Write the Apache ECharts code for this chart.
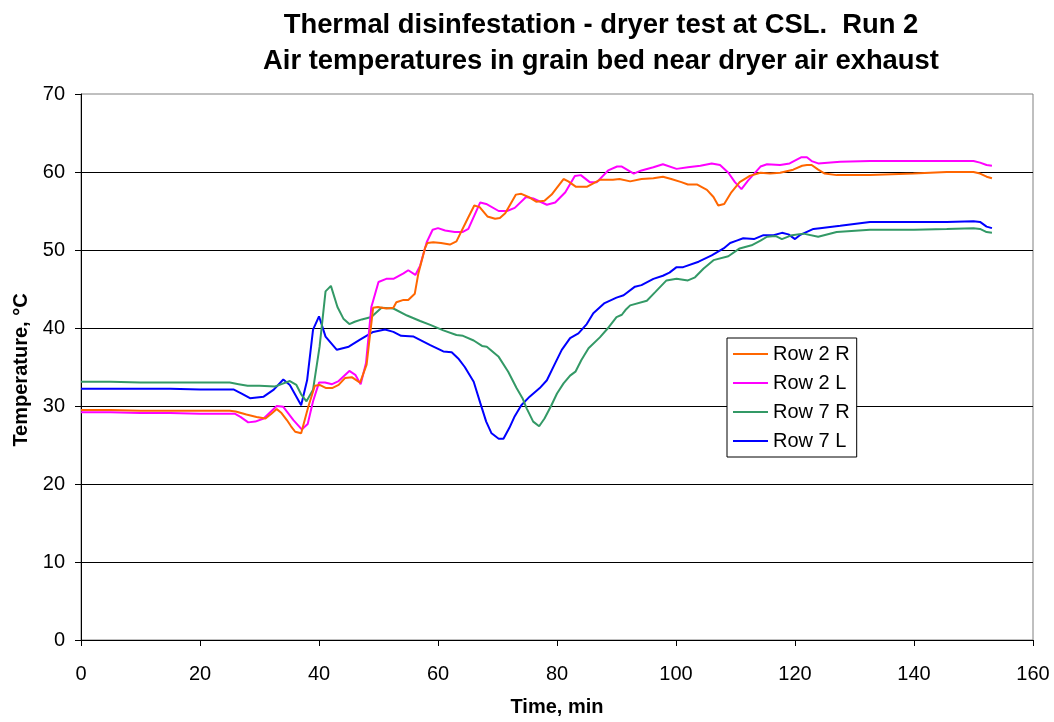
<!DOCTYPE html>
<html>
<head>
<meta charset="utf-8">
<script src="https://cdn.jsdelivr.net/npm/echarts@6/dist/echarts.min.js"></script>
<style>
html,body{margin:0;padding:0;background:#fff;}
#chart{width:1054px;height:722px;}
</style>
</head>
<body>
<div id="chart"></div>
<script>
// ---- data (time in min, temperature in °C) ----
const seriesNames = ["Row 2 R", "Row 2 L", "Row 7 R", "Row 7 L"];
const xTicks = [0, 20, 40, 60, 80, 100, 120, 140, 160];
const yTicks = [0, 10, 20, 30, 40, 50, 60, 70];

const row2RTime = [0,5,10,15,20,25,26,27.8,29.5,31,32,32.9,33.7,34.6,35.3,36,37,38.2,39.3,40.1,41.2,42.2,43.3,44.4,45.5,46.9,48,49.1,49.9,51.3,52.5,53,54.2,55,56.1,56.7,57.8,58.2,59.2,60.5,62,63.1,65.1,66.1,67,68.3,69.6,70.4,71.3,73.1,74,75.2,76.5,77.9,79.1,80,81.1,81.9,83.2,85,87.2,89.4,90.5,92.3,94.2,96.2,97.8,99.2,100.9,102,103.5,105.2,106.3,107.1,108.1,109.3,110.7,112.4,114.2,115.8,117.5,119.7,121.2,122,122.8,123.9,125,127,132.6,139.9,145.5,150,151.1,152.2,153.1];
const row2RTemp = [29.5,29.5,29.4,29.4,29.4,29.4,29.3,28.9,28.6,28.4,29.0,29.6,29.1,28.2,27.4,26.7,26.5,29.9,32.6,32.7,32.3,32.3,32.7,33.6,33.7,33.0,35.3,42.6,42.7,42.5,42.6,43.3,43.6,43.6,44.4,47.0,50.2,50.9,51.0,50.9,50.7,51.1,54.2,55.7,55.5,54.3,54.0,54.1,54.7,57.1,57.2,56.8,56.2,56.3,57.1,58.0,59.1,58.8,58.1,58.1,59.0,59.0,59.1,58.8,59.1,59.2,59.4,59.1,58.7,58.4,58.4,57.7,56.8,55.7,55.9,57.4,58.7,59.5,59.9,59.8,59.9,60.3,60.8,60.9,60.9,60.3,59.8,59.6,59.6,59.8,60.0,60.0,59.8,59.4,59.2];

const row2LTime = [0,5,10,15,20,25.9,26.8,28.1,29.3,30.7,31.8,32.9,34,35.7,37.1,38.1,39,40,41,42.2,43.3,45.1,46.1,47,47.9,48.8,50,51.3,52.5,54.2,55,56.2,57,58.1,59.1,60,61.2,62.8,64.1,65.1,66.1,67.1,68.1,70.2,71.6,72.9,74.8,76,78.3,79.7,81.4,83,84,85.5,86.7,88.6,90.1,90.9,92.9,94.2,96.2,97.8,100.1,102,104.1,106,107.4,108.8,109.9,111,112.1,114.2,115.3,117.5,119.1,121.1,122,122.8,123.9,127.6,132.6,139.9,150,151.1,152.2,153.1];
const row2LTemp = [29.2,29.2,29.1,29.1,29.0,29.0,28.6,27.9,28.0,28.4,29.2,30.0,29.9,28.2,27.0,27.7,30.6,33.0,33.0,32.8,33.2,34.5,34.0,32.8,35.5,42.7,45.9,46.3,46.3,47.0,47.4,46.8,48.0,51.0,52.6,52.8,52.5,52.3,52.3,52.7,54.4,56.1,55.9,55.0,55.0,55.4,56.8,56.6,55.8,56.1,57.4,59.5,59.6,58.7,58.7,60.2,60.7,60.7,59.8,60.2,60.6,61.0,60.4,60.6,60.8,61.1,60.9,59.9,58.7,57.8,58.9,60.7,61.0,60.9,61.1,61.9,61.9,61.4,61.1,61.3,61.4,61.4,61.4,61.2,60.9,60.8];

const row7RTime = [0,5,10,15,20,25,26.5,28,30,32.6,33.7,35.1,36.2,37,37.9,39,40.1,41.1,42,43.1,44.1,45.1,46,47.2,48.8,50.5,52.5,54.8,57,58.7,60.9,63.1,64.2,66,67.4,68.2,70.2,71.8,73.2,74.2,74.9,76,77,77.9,79,80,81.1,82.2,83.1,84.1,85.3,87.2,88.7,90,90.9,91.5,92.3,95.1,96.5,98.4,100.1,102,103.2,104.6,106.3,108.8,110.7,112.7,114.2,115.3,116.7,117.8,119.5,121.4,123.9,127,132.6,140,145.5,150,151.1,152.2,153.1];
const row7RTemp = [33.1,33.1,33.0,33.0,33.0,33.0,32.8,32.6,32.6,32.5,32.8,33.2,32.7,31.5,30.6,32.1,37.6,44.7,45.4,42.7,41.2,40.5,40.8,41.1,41.4,42.6,42.5,41.6,40.9,40.4,39.7,39.1,39.0,38.4,37.7,37.6,36.3,34.4,32.3,31.0,29.7,28.0,27.4,28.4,30.0,31.6,32.9,33.9,34.4,35.9,37.4,38.8,40.1,41.4,41.7,42.3,42.9,43.5,44.6,46.1,46.3,46.1,46.5,47.6,48.7,49.2,50.2,50.6,51.2,51.7,51.8,51.4,51.9,52.1,51.7,52.3,52.6,52.6,52.7,52.8,52.7,52.3,52.2];

const row7LTime = [0,5,10,15,20,25.7,27,28.4,30.7,32.4,34,35.1,37,38,39,40,41.1,43,45,46.9,49.1,51.1,52.5,53.8,55.9,58.7,60.9,62.3,63.4,64.5,66,67.1,68.1,69,70.2,71,72,72.9,74,75.4,77.1,78.3,79.7,80.8,82.2,83.6,85,86.1,88,90,91.2,93.1,94.2,96.2,97.8,98.9,100.1,101.2,103.8,106,108,109.1,110.2,111.3,113.1,114.7,116.4,117.8,118.9,120,120.8,123.1,124.2,127.6,132.6,139.9,145.5,150,151.1,152.2,153.1];
const row7LTemp = [32.2,32.2,32.2,32.2,32.1,32.1,31.6,31.0,31.2,32.1,33.4,32.7,30.1,33.3,39.8,41.5,38.9,37.2,37.6,38.5,39.5,39.8,39.5,39.0,38.9,37.8,37.0,36.9,36.1,35.0,33.1,30.4,28.0,26.5,25.8,25.8,27.2,28.7,30.1,31.2,32.3,33.3,35.5,37.2,38.7,39.3,40.5,41.9,43.2,43.9,44.2,45.3,45.5,46.3,46.7,47.1,47.8,47.8,48.5,49.3,50.2,50.9,51.2,51.5,51.4,51.9,51.9,52.2,52.0,51.4,51.9,52.7,52.8,53.1,53.6,53.6,53.6,53.7,53.6,53.0,52.8];

const colors = ["#FF6600", "#FF00FF", "#339966", "#0000FF"];

// ---- build ----
function zip(t, v) { return t.map((x, i) => [x, v[i]]); }
const seriesData = [
  zip(row2RTime, row2RTemp),
  zip(row2LTime, row2LTemp),
  zip(row7RTime, row7RTemp),
  zip(row7LTime, row7LTemp)
];

const FONT = '"Liberation Sans", Arial, sans-serif';
const chart = echarts.init(document.getElementById('chart'), null, {renderer: 'canvas'});
chart.setOption({
  animation: false,
  backgroundColor: '#ffffff',
  title: {
    text: 'Thermal disinfestation - dryer test at CSL.  Run 2\nAir temperatures in grain bed near dryer air exhaust',
    left: 596,
    top: 2,
    textAlign: 'center',
    textStyle: {fontFamily: FONT, fontSize: 27.4, fontWeight: 'bold', color: '#000', lineHeight: 36}
  },
  grid: {
    left: 81, right: 21, top: 94, bottom: 82,
    show: true, borderColor: '#808080', borderWidth: 1, backgroundColor: 'transparent'
  },
  legend: {
    orient: 'vertical',
    left: 727, top: 338,
    padding: [6, 7, 6, 6],
    itemGap: 9,
    itemWidth: 35,
    itemHeight: 2,
    icon: 'rect',
    backgroundColor: '#fff',
    borderColor: '#000',
    borderWidth: 1,
    textStyle: {fontFamily: FONT, fontSize: 20, color: '#000', lineHeight: 20},
    data: seriesNames
  },
  xAxis: {
    type: 'value', min: xTicks[0], max: xTicks[xTicks.length - 1], interval: 20,
    name: 'Time, min', nameLocation: 'middle', nameGap: 57,
    nameTextStyle: {fontFamily: FONT, fontSize: 20, fontWeight: 'bold', color: '#000'},
    axisLine: {show: true, onZero: false, lineStyle: {color: '#000', width: 1}},
    axisTick: {show: true, inside: false, length: 6, lineStyle: {color: '#000'}},
    axisLabel: {fontFamily: FONT, fontSize: 20, color: '#000', margin: 24},
    splitLine: {show: false}
  },
  yAxis: {
    type: 'value', min: yTicks[0], max: yTicks[yTicks.length - 1], interval: 10,
    axisLine: {show: true, lineStyle: {color: '#000', width: 1}},
    axisTick: {show: true, inside: false, length: 6, lineStyle: {color: '#000'}},
    axisLabel: {fontFamily: FONT, fontSize: 20, color: '#000', margin: 16},
    splitLine: {show: true, showMinLine: false, showMaxLine: false, lineStyle: {color: '#000', width: 1}}
  },
  graphic: [{
    type: 'text',
    x: 21, y: 370,
    rotation: Math.PI / 2,
    style: {
      text: 'Temperature, °C',
      font: 'bold 20px "Liberation Sans", Arial, sans-serif',
      fill: '#000',
      align: 'center',
      verticalAlign: 'middle'
    }
  }],
  series: seriesNames.map((n, i) => ({
    name: n,
    type: 'line',
    data: seriesData[i],
    showSymbol: false,
    symbol: 'none',
    lineStyle: {color: colors[i], width: 2},
    itemStyle: {color: colors[i]},
    z: 3 + (3 - i)
  }))
});
</script>
</body>
</html>
